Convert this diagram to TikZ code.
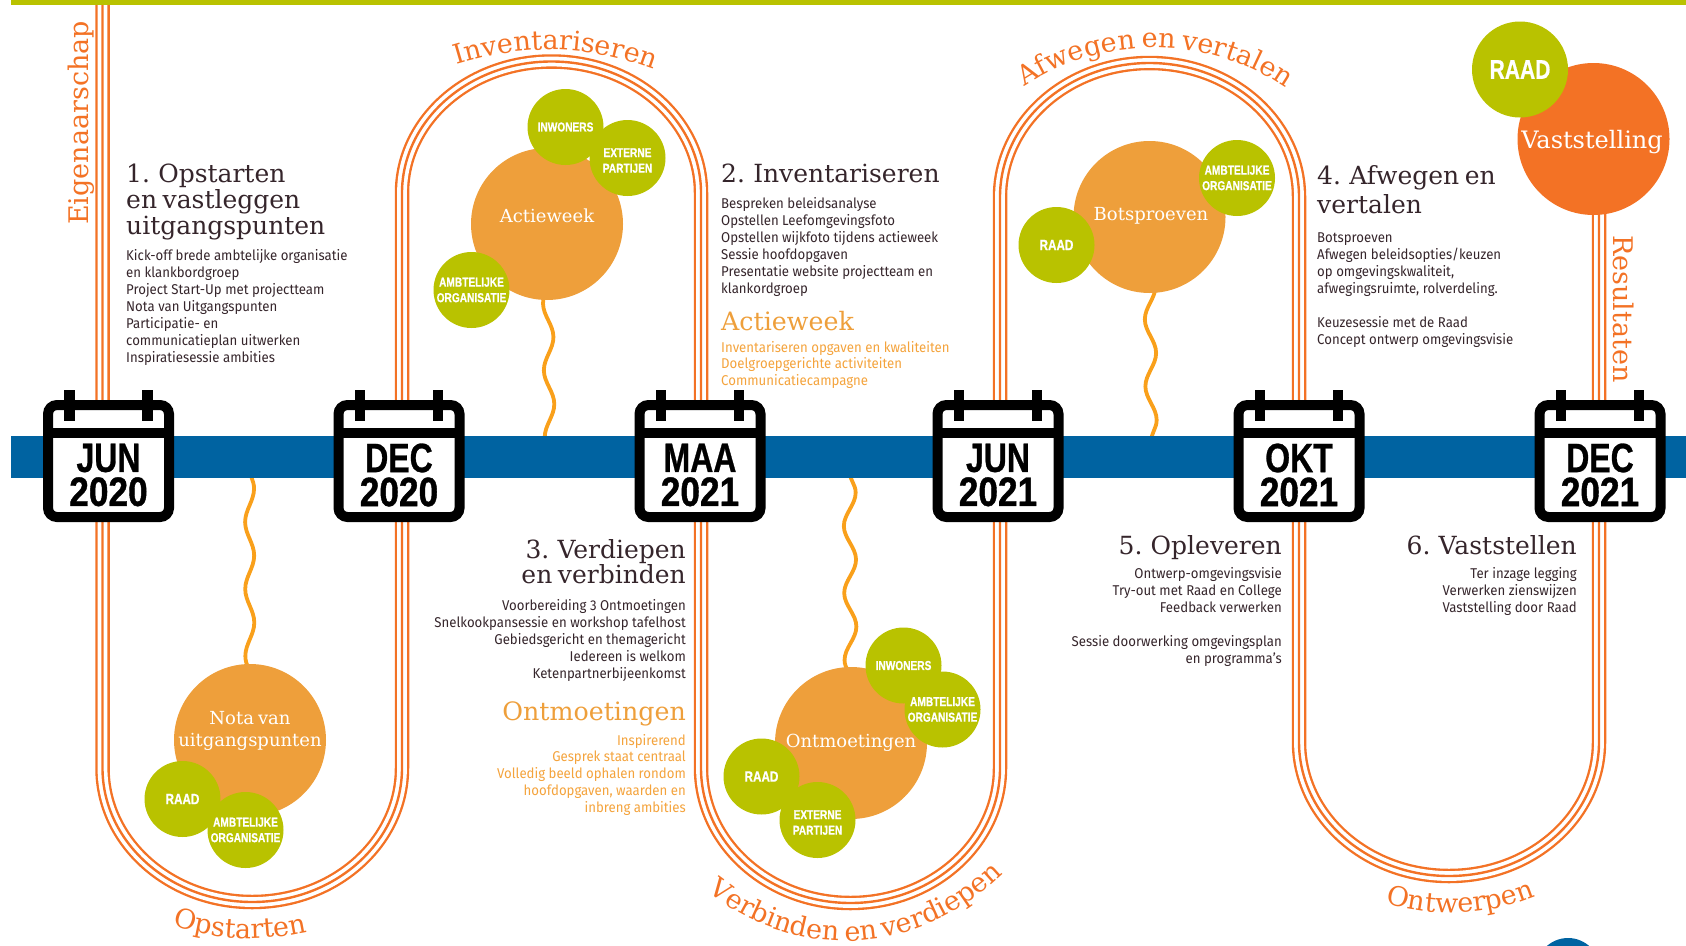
\documentclass[tikz,border=0pt]{standalone}
\usepackage{fontspec}
\usetikzlibrary{backgrounds,decorations.pathmorphing,decorations.text}
\newfontfamily\slabfont[WordSpace=0.7]{DejaVu Serif}
\newfontfamily\bodyfont[FakeStretch=0.93]{Fira Sans}
\newfontfamily\calfont[FakeStretch=0.78,FakeBold=0.7]{Liberation Sans}
\newfontfamily\yearfont[FakeStretch=0.86,FakeBold=1]{Liberation Sans}
\definecolor{limegreen}{HTML}{B9C200}
\definecolor{balloon}{HTML}{EE9F3B}
\definecolor{trackorange}{HTML}{F37225}
\definecolor{waveorange}{HTML}{F9A01B}
\definecolor{softorange}{HTML}{F4A33C}
\definecolor{barblue}{HTML}{0063A1}
\definecolor{inkbrown}{HTML}{35252B}
\tikzset{
	track/.style={trackorange,line width=14.5pt,postaction={draw,white,line width=9.8pt},postaction={draw,trackorange,line width=2.4pt}},
	wave/.style 2 args={draw=waveorange,line width=3.8pt,decorate,decoration={snake,amplitude=#1pt,segment length=67pt,pre length=#2pt}},
	bigdot/.style={circle,inner sep=0pt,minimum size=152pt,fill=balloon},
	greendot/.style={circle,inner sep=0pt,minimum size=76pt,fill=limegreen,text=white,align=center,font=\calfont\bfseries\fontsize{13}{15.5}\selectfont},
	dottext/.style={text=white,inner sep=0pt,align=center,font=\slabfont\fontsize{18}{22.7}\selectfont},
	calbox/.style={draw=black,fill=white,line width=10pt,rounded corners=9pt,minimum width=121pt,minimum height=112pt,inner sep=0pt},
	calring/.style={black,line width=10.5pt},
	caltext/.style={inner sep=0pt,align=center,font=\calfont\bfseries\fontsize{41}{34}\selectfont},
	heading/.style={inner sep=0pt,text=inkbrown,font=\slabfont\fontsize{25}{25.7}\selectfont},
	subheading/.style={inner sep=0pt,text=balloon,font=\slabfont\fontsize{25.3}{26}\selectfont},
	bodytext/.style={inner sep=0pt,text=inkbrown,font=\bodyfont\fontsize{14.2}{17}\selectfont},
	orangetext/.style={inner sep=0pt,text=softorange,font=\bodyfont\fontsize{14.2}{16.7}\selectfont},
	bowtext/.style={decorate,decoration={text along path,text align=center,text={|\slabfont\fontsize{27}{27}\selectfont\color{trackorange}|#1}}},
	sidetext/.style={inner sep=0pt,text=trackorange,font=\slabfont\fontsize{27}{27}\selectfont}
}
\newcommand{\datebox}[4]{
	\node [calbox] (#1) at (#2,461) {};
	\draw [calring] (#2-39,390) -- (#2-39,421);
	\draw [calring] (#2+39,390) -- (#2+39,421);
	\draw [black,line width=10pt] (#2-60,433) -- (#2+60,433);
	\node [caltext] (#1text) at (#2,475) {#3\\\yearfont\bfseries #4};
}

\begin{document}
\begin{tikzpicture}[x=1pt,y=-1pt]
	\useasboundingbox (0,0) rectangle (1686,945);

	% circles
	\node [bigdot] (nota) at (250,740) {};
	\node [bigdot] (actie) at (547,224) {};
	\node [bigdot] (ontm) at (851,743) {};
	\node [bigdot] (bots) at (1149.5,217) {};
	\node [bigdot,fill=trackorange] (vast) at (1593.5,139) {};
	\node [circle,inner sep=0pt,minimum size=64pt,fill=barblue] (corner) at (1568,970) {};

	\node [greendot] (notaraad) at (182.5,799) {\fontsize{15}{15}\selectfont RAAD};
	\node [greendot] (notaambt) at (245.5,830) {AMBTELIJKE\\ORGANISATIE};
	\node [greendot] (actieinw) at (565.5,127) {INWONERS};
	\node [greendot] (actieext) at (627.5,158) {\rule{0pt}{14pt}EXTERNE\\PARTIJEN};
	\node [greendot] (actieambt) at (471.5,290) {AMBTELIJKE\\ORGANISATIE};
	\node [greendot] (ontminw) at (903.5,665.5) {INWONERS};
	\node [greendot] (ontmambt) at (942.5,709.5) {AMBTELIJKE\\ORGANISATIE};
	\node [greendot] (ontmraad) at (761.5,776.5) {\fontsize{15}{15}\selectfont RAAD};
	\node [greendot] (ontmext) at (817.5,820) {\rule{0pt}{14pt}EXTERNE\\PARTIJEN};
	\node [greendot] (botsraad) at (1056.5,245) {\fontsize{15}{15}\selectfont RAAD};
	\node [greendot] (botsambt) at (1237,178) {AMBTELIJKE\\ORGANISATIE};
	\node [greendot,minimum size=96pt] (vastraad) at (1520,69.5) {\fontsize{27}{27}\selectfont RAAD};

	\node [dottext] (notatext) at (250,731) {Nota van\\uitgangspunten};
	\node [dottext] (actietext) at (547,216) {Actieweek};
	\node [dottext] (ontmtext) at (851,743) {Ontmoetingen};
	\node [dottext] (botstext) at (1151,216) {Botsproeven};
	\node [dottext,font=\slabfont\fontsize{24}{24}\selectfont] (vasttext) at (1592,142) {Vaststelling};

	% calendars
	\datebox{jun20}{108.5}{JUN}{2020}
	\datebox{dec20}{399}{DEC}{2020}
	\datebox{maa21}{700}{MAA}{2021}
	\datebox{jun21}{998}{JUN}{2021}
	\datebox{okt21}{1299}{OKT}{2021}
	\datebox{dec21}{1600}{DEC}{2021}

	% the text blocks
	\node [heading,anchor=north west,align=left] (head1) at (126,164) {1. Opstarten\\en vastleggen\\uitgangspunten};
	\node [bodytext,anchor=north west,align=left] (body1) at (126,249) {Kick-off brede ambtelijke organisatie\\en klankbordgroep\\Project Start-Up met projectteam\\Nota van Uitgangspunten\\Participatie- en\\communicatieplan uitwerken\\Inspiratiesessie ambities};
	\node [heading,anchor=north west] (head2) at (721,164) {2. Inventariseren};
	\node [bodytext,anchor=north west,align=left] (body2) at (721,197) {Bespreken beleidsanalyse\\Opstellen Leefomgevingsfoto\\Opstellen wijkfoto tijdens actieweek\\Sessie hoofdopgaven\\Presentatie website projectteam en\\klankordgroep};
	\node [subheading,anchor=north west] (sub2) at (721,311) {Actieweek};
	\node [orangetext,anchor=north west,align=left] (list2) at (721,341) {Inventariseren opgaven en kwaliteiten\\Doelgroepgerichte activiteiten\\Communicatiecampagne};
	\node [heading,anchor=north east,align=right] (head3) at (686,539) {3. Verdiepen\\en verbinden};
	\node [bodytext,anchor=north east,align=right] (body3) at (686,599) {Voorbereiding 3 Ontmoetingen\\Snelkookpansessie en workshop tafelhost\\Gebiedsgericht en themagericht\\Iedereen is welkom\\Ketenpartnerbijeenkomst};
	\node [subheading,anchor=north east] (sub3) at (686,702) {Ontmoetingen};
	\node [orangetext,anchor=north east,align=right] (list3) at (686,734) {Inspirerend\\Gesprek staat centraal\\Volledig beeld ophalen rondom\\hoofdopgaven, waarden en\\inbreng ambities};
	\node [heading,anchor=north west,align=left] (head4) at (1317,165) {4. Afwegen en\\[4pt]vertalen};
	\node [bodytext,anchor=north west,align=left] (body4) at (1317,233) {Botsproeven\\Afwegen beleidsopties/keuzen\\op omgevingskwaliteit,\\afwegingsruimte, rolverdeling.\\[17pt]Keuzesessie met de Raad\\Concept ontwerp omgevingsvisie};
	\node [heading,anchor=north east] (head5) at (1282,535) {5. Opleveren};
	\node [bodytext,anchor=north east,align=right] (body5) at (1282,567) {Ontwerp-omgevingsvisie\\Try-out met Raad en College\\Feedback verwerken\\[17pt]Sessie doorwerking omgevingsplan\\en programma’s};
	\node [heading,anchor=north east] (head6) at (1577,535) {6. Vaststellen};
	\node [bodytext,anchor=north east,align=right] (body6) at (1577,567) {Ter inzage legging\\Verwerken zienswijzen\\Vaststelling door Raad};

	% side and bow labels
	\node [sidetext,rotate=90,anchor=base] (eigen) at (88,123) {Eigenaarschap};
	\node [sidetext,rotate=-90,anchor=base] (result) at (1613,309) {Resultaten};
	\path [bowtext={Inventariseren}] (440,70) .. controls (520,42) and (590,42) .. (670,76);
	\path [bowtext={Afwegen en vertalen}] (1000,106) .. controls (1085,28) and (1225,28) .. (1310,108);
	\path [bowtext={Opstarten}] (165,923) .. controls (215,942) and (265,942) .. (315,930);
	\path [bowtext={Verbinden en verdiepen}] (695,880) .. controls (785,964) and (920,964) .. (1015,862);
	\path [bowtext={Ontwerpen}] (1370,898) .. controls (1430,919) and (1490,919) .. (1550,890);

	\begin{pgfonlayer}{background}
		\draw [track] (102.5,5) -- (102.5,768)
			arc [start angle=180,end angle=0,x radius=149.75,y radius=134] -- (402,193)
			arc [start angle=180,end angle=360,x radius=149.5,y radius=131.5] -- (701,768)
			arc [start angle=180,end angle=0,x radius=149.5,y radius=135] -- (1000,197)
			arc [start angle=180,end angle=360,x radius=149.5,y radius=134] -- (1299,742)
			arc [start angle=180,end angle=0,x radius=150,y radius=134] -- (1599,214);
		\coordinate (notafoot) at (249.5,460);
		\coordinate (actiefoot) at (550,460);
		\coordinate (ontmfoot) at (849.5,460);
		\coordinate (botsfoot) at (1151.5,460);
		\path [wave={4.5}{63}] (nota.center) -- (notafoot);
		\path [wave={5}{25}] (actie.center) -- (actiefoot);
		\path [wave={6}{62}] (ontm.center) -- (ontmfoot);
		\path [wave={5.5}{48}] (bots.center) -- (botsfoot);
		\fill [limegreen] (11,0) rectangle (1686,5);
		\fill [barblue] (11,436) rectangle (1686,478);
	\end{pgfonlayer}
\end{tikzpicture}
\end{document}
